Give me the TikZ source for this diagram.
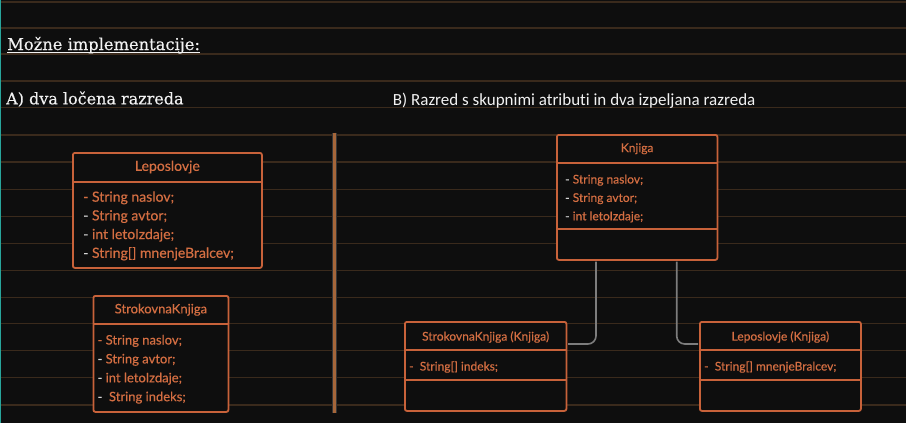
\documentclass[tikz,border=0pt]{standalone}
\usepackage{fontspec}
\newfontfamily\titlefont[FakeBold=0.3]{DejaVu Serif}
\newfontfamily\clsfont[FakeBold=0.4]{Lato}
\newfontfamily\notefont[Ligatures=NoCommon]{Carlito}
\usetikzlibrary{positioning}
\definecolor{bg}{RGB}{14,14,14}
\definecolor{ruleline}{RGB}{58,42,28}
\definecolor{clsline}{RGB}{200,98,58}
\definecolor{clstext}{RGB}{212,110,66}
\definecolor{dashtext}{RGB}{215,215,215}
\definecolor{sepline}{RGB}{165,102,58}
\definecolor{conngray}{RGB}{125,125,125}
\definecolor{margin}{RGB}{40,165,155}
\definecolor{headtext}{RGB}{242,242,242}
\newcommand{\dd}{\textcolor{dashtext}{-}}
\tikzset{
  cls/.style    ={draw=clsline, line width=1.8pt, rounded corners=2pt, fill=bg, anchor=north west, inner sep=0pt},
  clsname/.style={text=clstext, font=\clsfont\fontsize{12}{14}\selectfont, inner sep=0pt},
  attr/.style   ={text=clstext, font=\clsfont\fontsize{12}{14}\selectfont, anchor=base west, inner sep=0pt},
  big/.style    ={font=\clsfont\fontsize{14}{16}\selectfont},
  mid/.style    ={font=\clsfont\fontsize{13}{15}\selectfont},
  divider/.style={draw=clsline, line width=1.8pt},
  conn/.style   ={draw=conngray, line width=1.6pt, rounded corners=8pt},
  ruling/.style ={draw=ruleline, line width=1.4pt},
  head/.style   ={anchor=base west, inner sep=0pt, text=headtext},
}
\begin{document}
\begin{tikzpicture}[x=1pt, y=-1pt]
  \fill[bg] (0,0) rectangle (906,423);
  \useasboundingbox (0,0) rectangle (906,423);
  % ruled paper
  \foreach \y in {2,28,54,81,107.5,135,162,189.5,216.5,243.5,270.5,297.5,323.5,350.5,377.5,405}
    \draw[ruling] (0,\y) -- (906,\y);
  \draw[margin, line width=1.2pt] (0.8,0) -- (0.8,423);

  % headings
  \node[head, font=\titlefont\fontsize{16.3}{18}\selectfont] (hdr) at (7,50) {Možne implementacije:};
  \draw[headtext, line width=1pt] ([yshift=-2.5pt]hdr.base west) -- ([yshift=-2.5pt]hdr.base east);
  \node[head, font=\titlefont\fontsize{16}{18}\selectfont] (parta) at (6,104.3) {A) dva ločena razreda};
  \node[head, font=\notefont\fontsize{17}{20}\selectfont] (partb) at (392.7,105) {B) Razred s skupnimi atributi in dva izpeljana razreda};

  % separator
  \coordinate (septop) at (334.3,132.7);
  \coordinate (sepbot) at (334.3,413.3);
  \draw[gray!35!bg, line width=5pt] (septop) -- (sepbot);
  \draw[sepline, line width=3pt] (septop) -- (sepbot);

  % A) Leposlovje
  \node[cls, minimum width=189pt, minimum height=115pt] (lepa) at (72,152) {};
  \draw[divider] ([yshift=-30pt]lepa.north west) -- ([yshift=-30pt]lepa.north east);
  \node[clsname, big] (lepa-name) at ([yshift=-15pt]lepa.north) {Leposlovje};
  \node[attr, big] (lepa-1) at ([xshift=11pt,yshift=-49.7pt]lepa.north west) {- String naslov;};
  \node[attr, big] (lepa-2) at ([yshift=-18.7pt]lepa-1.base west) {\dd{} String avtor;};
  \node[attr, big] (lepa-3) at ([yshift=-18.7pt]lepa-2.base west) {\dd{} int letoIzdaje;};
  \node[attr, big] (lepa-4) at ([yshift=-18.7pt]lepa-3.base west) {\dd{} String[] mnenjeBralcev;};

  % A) StrokovnaKnjiga
  \node[cls, minimum width=135pt, minimum height=116pt] (stra) at (92.5,295) {};
  \draw[divider] ([yshift=-29pt]stra.north west) -- ([yshift=-29pt]stra.north east);
  \node[clsname, mid] (stra-name) at ([yshift=-14.75pt]stra.north) {StrokovnaKnjiga};
  \node[attr, mid] (stra-1) at ([xshift=4.8pt,yshift=-49.5pt]stra.north west) {- String naslov;};
  \node[attr, mid] (stra-2) at ([yshift=-18.9pt]stra-1.base west) {\dd{} String avtor;};
  \node[attr, mid] (stra-3) at ([yshift=-18.9pt]stra-2.base west) {\dd{} int letoIzdaje;};
  \node[attr, mid] (stra-4) at ([yshift=-18.9pt]stra-3.base west) {\dd{}~~String indeks;};

  % B) Knjiga
  \node[cls, minimum width=160.5pt, minimum height=125pt] (knj) at (556,134) {};
  \draw[divider] ([yshift=-29pt]knj.north west) -- ([yshift=-29pt]knj.north east);
  \draw[divider] ([yshift=-95pt]knj.north west) -- ([yshift=-95pt]knj.north east);
  \node[clsname] (knj-name) at ([yshift=-14.75pt]knj.north) {Knjiga};
  \node[attr] (knj-1) at ([xshift=9pt,yshift=-49.5pt]knj.north west) {\dd{} String naslov;};
  \node[attr] (knj-2) at ([yshift=-18.4pt]knj-1.base west) {\dd{} String avtor;};
  \node[attr] (knj-3) at ([yshift=-18.4pt]knj-2.base west) {\dd{} int letoIzdaje;};

  % B) StrokovnaKnjiga (Knjiga)
  \node[cls, minimum width=161.5pt, minimum height=89pt] (strb) at (404,321) {};
  \draw[divider] ([yshift=-29pt]strb.north west) -- ([yshift=-29pt]strb.north east);
  \draw[divider] ([yshift=-59pt]strb.north west) -- ([yshift=-59pt]strb.north east);
  \node[clsname] (strb-name) at ([yshift=-16pt]strb.north) {StrokovnaKnjiga (Knjiga)};
  \node[attr] (strb-1) at ([xshift=5pt,yshift=-49.5pt]strb.north west) {-~~String[] indeks;};

  % B) Leposlovje (Knjiga)
  \node[cls, minimum width=161pt, minimum height=89pt] (lepb) at (699,321) {};
  \draw[divider] ([yshift=-29pt]lepb.north west) -- ([yshift=-29pt]lepb.north east);
  \draw[divider] ([yshift=-59pt]lepb.north west) -- ([yshift=-59pt]lepb.north east);
  \node[clsname] (lepb-name) at ([yshift=-16pt]lepb.north) {Leposlovje (Knjiga)};
  \node[attr] (lepb-1) at ([xshift=5pt,yshift=-49.5pt]lepb.north west) {-~~String[] mnenjeBralcev;};

  % inheritance links
  \draw[conn] ([xshift=40pt,yshift=-0.9pt]knj.south west) |- ([xshift=0.9pt,yshift=-23pt]strb.north east);
  \draw[conn] ([xshift=120.7pt,yshift=-0.9pt]knj.south west) |- ([xshift=-0.9pt,yshift=-23pt]lepb.north west);
\end{tikzpicture}
\end{document}
